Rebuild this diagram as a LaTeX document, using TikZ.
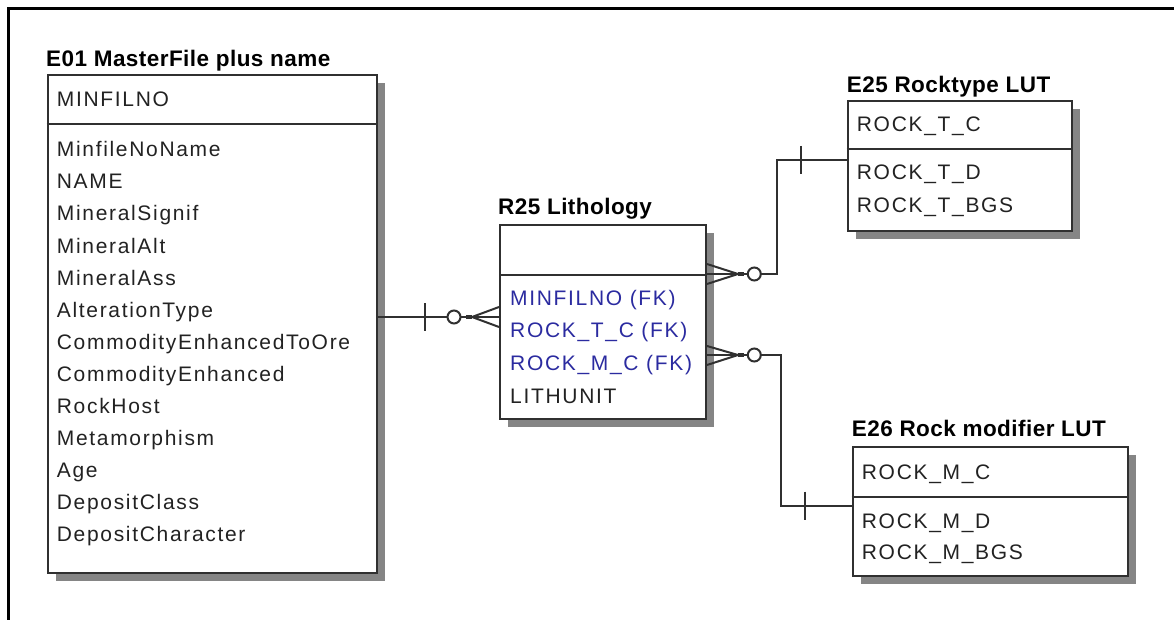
\documentclass[tikz,border=0pt]{standalone}
\usepackage{fontspec}
\setmainfont{Liberation Sans}
\newfontfamily\bodyfont{Liberation Sans}[LetterSpace=8]
\newfontfamily\titlefont{Liberation Sans}[LetterSpace=2]
\usetikzlibrary{shadows,calc}
\definecolor{boxline}{HTML}{303030}
\definecolor{shadowgray}{HTML}{858585}
\definecolor{txt}{HTML}{222222}
\definecolor{fk}{HTML}{2B2BA0}
\begin{document}
\begin{tikzpicture}[x=1pt,y=-1pt,
  ent/.style={draw=boxline, line width=2pt, fill=white, inner sep=0pt, anchor=north west,
    drop shadow={shadow xshift=8pt, shadow yshift=-8pt, fill=shadowgray, opacity=1}},
  sepline/.style={draw=boxline, line width=2pt},
  ttl/.style={anchor=base west, inner sep=0pt, text=black, font=\titlefont\bfseries\fontsize{22.5}{27}\selectfont},
  fld/.style={anchor=base west, inner sep=0pt, text=txt, font=\bodyfont\fontsize{21}{32}\selectfont},
  fkfld/.style={fld, text=fk},
  conn/.style={draw=boxline, line width=2pt},
  frame/.style={draw=black, line width=3pt}
]
\useasboundingbox (0,0) rectangle (1174,620);
\fill[white] (0,0) rectangle (1174,620);
% outer frame
\coordinate (fA) at (1174,8.5);
\coordinate (fB) at (8.5,8.5);
\coordinate (fC) at (8.5,620);
\draw[frame] (fA) -- (fB) -- (fC);

% ---------- E01 ----------
\node[ent, minimum width=329.3pt, minimum height=498pt] (e01) at (46.7,74) {};
\draw[sepline] (e01.west |- 0,124) -- (e01.east |- 0,124);
\node[ttl] (e01t) at (46,67) {E01 MasterFile plus name};
\node[fld] (e01k) at (56.7,107) {MINFILNO};
\foreach \txt [count=\i from 0] in {MinfileNoName,NAME,MineralSignif,MineralAlt,MineralAss,AlterationType,CommodityEnhancedToOre,CommodityEnhanced,RockHost,Metamorphism,Age,DepositClass,DepositCharacter}
  \node[fld] (e01r\i) at (56.7,157+32*\i) {\txt};

% ---------- R25 ----------
\node[ent, minimum width=206pt, minimum height=194pt] (r25) at (499,224) {};
\draw[sepline] (r25.west |- 0,275) -- (r25.east |- 0,275);
\node[ttl] (r25t) at (498,215) {R25 Lithology};
\node[fkfld] (r25a) at (510,305) {MINFILNO (FK)};
\node[fkfld] (r25b) at (510,337.7) {ROCK\_T\_C (FK)};
\node[fkfld] (r25c) at (510,370.3) {ROCK\_M\_C (FK)};
\node[fld] (r25d) at (510,403) {LITHUNIT};

% ---------- E25 ----------
\node[ent, minimum width=224pt, minimum height=130pt] (e25) at (846.7,100) {};
\draw[sepline] (e25.west |- 0,149.3) -- (e25.east |- 0,149.3);
\node[ttl] (e25t) at (846.7,92.7) {E25 Rocktype LUT};
\node[fld] (e25k) at (856.7,131.7) {ROCK\_T\_C};
\node[fld] (e25a) at (856.7,180) {ROCK\_T\_D};
\node[fld] (e25b) at (856.7,212.5) {ROCK\_T\_BGS};

% ---------- E26 ----------
\node[ent, minimum width=275pt, minimum height=129pt] (e26) at (851.7,446) {};
\draw[sepline] (e26.west |- 0,496.7) -- (e26.east |- 0,496.7);
\node[ttl] (e26t) at (851.7,436.7) {E26 Rock modifier LUT};
\node[fld] (e26k) at (861.7,479.3) {ROCK\_M\_C};
\node[fld] (e26a) at (861.7,528.3) {ROCK\_M\_D};
\node[fld] (e26b) at (861.7,559.3) {ROCK\_M\_BGS};

% ---------- connector E01 -- R25 ----------
\coordinate (c1a) at (e01.east |- 0,317);
\coordinate (c1b) at (r25.west |- 0,317);
\draw[conn] (c1a) -- ($(c1b)+(-27,0)$);
\draw[conn] ($(c1a)+(47,-14)$) -- ($(c1a)+(47,14)$);
\draw[conn] ($(c1b)+(-27,0)$) -- ($(c1b)+(0,-10)$);
\draw[conn] ($(c1b)+(-27,0)$) -- (c1b);
\draw[conn] ($(c1b)+(-27,0)$) -- ($(c1b)+(0,10)$);
\draw[line width=4pt, boxline] ($(c1b)+(-33,0)$) -- ($(c1b)+(-27,0)$);
\draw[conn, fill=white] ($(c1a)+(76,0)$) circle[radius=6.5pt];

% ---------- connector R25 -- E25 ----------
\coordinate (c2a) at (r25.east |- 0,274);
\coordinate (c2k) at (777.3,160);
\coordinate (c2b) at (e25.west |- 0,160);
\draw[conn] ($(c2a)+(31,0)$) -- (c2k |- c2a) -- (c2k) -- (c2b);
\draw[conn] ($(c2a)+(31,0)$) -- ($(c2a)+(0,-10)$);
\draw[conn] ($(c2a)+(31,0)$) -- (c2a);
\draw[conn] ($(c2a)+(31,0)$) -- ($(c2a)+(0,10)$);
\draw[line width=4pt, boxline] ($(c2a)+(31,0)$) -- ($(c2a)+(37,0)$);
\draw[conn, fill=white] ($(c2a)+(47.3,0)$) circle[radius=6.5pt];
\draw[conn] ($(c2b)+(-46,-14)$) -- ($(c2b)+(-46,14)$);

% ---------- connector R25 -- E26 ----------
\coordinate (c3a) at (r25.east |- 0,355);
\coordinate (c3k) at (780.7,505.7);
\coordinate (c3b) at (e26.west |- 0,505.7);
\draw[conn] ($(c3a)+(31,0)$) -- (c3k |- c3a) -- (c3k) -- (c3b);
\draw[conn] ($(c3a)+(31,0)$) -- ($(c3a)+(0,-9)$);
\draw[conn] ($(c3a)+(31,0)$) -- (c3a);
\draw[conn] ($(c3a)+(31,0)$) -- ($(c3a)+(0,10)$);
\draw[line width=4pt, boxline] ($(c3a)+(31,0)$) -- ($(c3a)+(37,0)$);
\draw[conn, fill=white] ($(c3a)+(47.3,0)$) circle[radius=6.5pt];
\draw[conn] ($(c3b)+(-46.7,-14)$) -- ($(c3b)+(-46.7,14)$);
\end{tikzpicture}
\end{document}
